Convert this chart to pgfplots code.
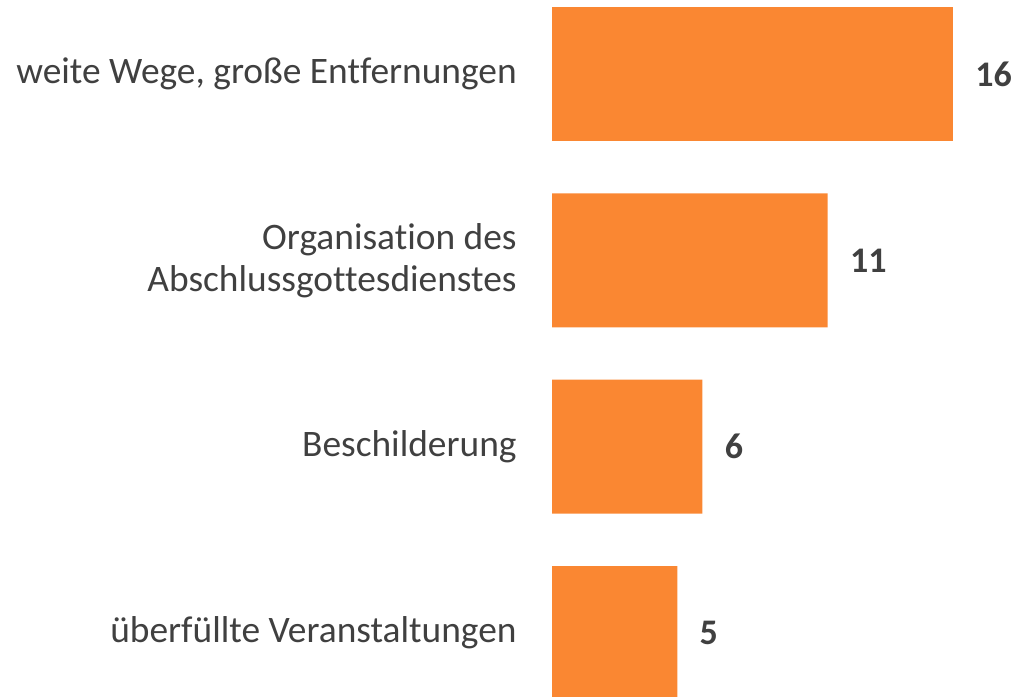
\documentclass[border=0pt]{standalone}
\usepackage{fontspec}
\setmainfont[Ligatures={NoCommon}]{Carlito}
\usepackage{pgfplots}
\pgfplotsset{compat=1.18}
\definecolor{barorange}{HTML}{FA8732}
\definecolor{txt}{HTML}{404040}
\begin{document}
\begin{tikzpicture}
\begin{axis}[
  at={(276pt,-14.58pt)}, anchor=south west,
  scale only axis,
  width=200.5pt, height=372.67pt,
  xbar, bar width=0.719,
  xmin=0, xmax=16,
  ymin=-0.5, ymax=3.5,
  y dir=reverse,
  axis lines=none,
  clip=false,
  /pgf/number format/assume math mode=true,
  nodes near coords={\pgfmathprintnumber{\pgfplotspointmeta}},
  nodes near coords style={anchor=west, xshift=11pt, inner sep=0pt, font=\fontsize{18}{22}\selectfont\bfseries, text=txt},
]
\addplot[fill=barorange, draw=none] coordinates {(16,0) (11,1) (6,2) (5,3)};
\end{axis}
\begin{axis}[
  at={(276pt,-14.58pt)}, anchor=south west,
  scale only axis,
  width=200.5pt, height=372.67pt,
  xmin=0, xmax=16,
  ymin=-0.5, ymax=3.5,
  y dir=reverse,
  axis line style={draw=none},
  xtick=\empty,
  ytick={0,1,2,3},
  major tick length=0pt,
  yticklabels={{weite Wege, große Entfernungen},{Organisation des\\Abschlussgottesdienstes},{Beschilderung},{überfüllte Veranstaltungen}},
  yticklabel style={anchor=east, inner sep=0pt, xshift=-17.5pt, align=right, font=\fontsize{18.7}{21}\selectfont, text=txt},
]
\end{axis}
\pgfresetboundingbox
\path (0,0) rectangle (507pt,348.5pt);
\end{tikzpicture}
\end{document}
